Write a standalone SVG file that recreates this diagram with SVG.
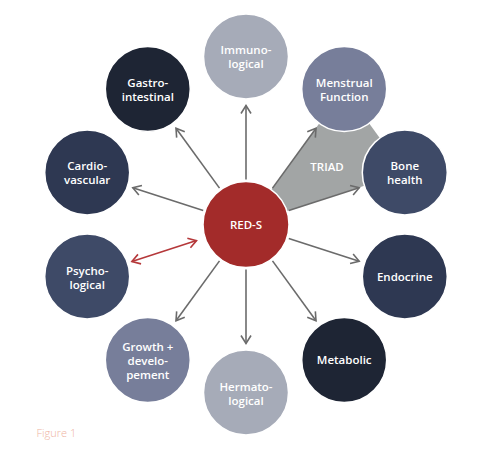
<svg xmlns="http://www.w3.org/2000/svg" width="491" height="468" viewBox="0 0 491 468">
<style>
.n{stroke:#ffffff;stroke-width:1.5}
.t{font-family:"Open Sans","Liberation Sans",sans-serif;font-weight:600;font-size:11.5px;fill:#ffffff;text-anchor:middle}
.c1{fill:#a6abb8}.c2{fill:#777e9a}.c3{fill:#3e4a67}.c4{fill:#2e3852}.c5{fill:#1e2534}
.a{stroke:#6b6b6b;stroke-width:1.6;fill:none;marker-end:url(#ah)}
.r{stroke:#b5383a;stroke-width:1.6;fill:none;marker-end:url(#rh);marker-start:url(#rh)}
</style>
<defs>
<marker id="ah" markerUnits="userSpaceOnUse" viewBox="-10 -6 12 12" refX="0" refY="0" markerWidth="12" markerHeight="12" orient="auto">
<path d="M-8,-5 L0,0 L-8,5" fill="none" stroke="#6b6b6b" stroke-width="1.6"/>
</marker>
<marker id="rh" markerUnits="userSpaceOnUse" viewBox="-10 -6 12 12" refX="0" refY="0" markerWidth="12" markerHeight="12" orient="auto-start-reverse">
<path d="M-8,-5 L0,0 L-8,5" fill="none" stroke="#b5383a" stroke-width="1.6"/>
</marker>
</defs>
<rect width="491" height="468" fill="#ffffff"/>
<g id="triad">
<polygon points="246,224.5 344.2,88.9 404.8,172.4" fill="#a2a5a5"/>
<text class="t" x="327" y="171">TRIAD</text>
</g>
<g id="connectors">
<line class="a" x1="246" y1="179.5" x2="246" y2="105.5"/>
<line class="a" x1="272.5" y1="188.1" x2="316" y2="128.2"/>
<line class="a" x1="288.8" y1="210.6" x2="359.2" y2="187.7"/>
<line class="a" x1="288.8" y1="238.4" x2="359.2" y2="261.3"/>
<line class="a" x1="272.5" y1="260.9" x2="316" y2="320.8"/>
<line class="a" x1="246" y1="269.5" x2="246" y2="343.5"/>
<line class="a" x1="219.5" y1="260.9" x2="176" y2="320.8"/>
<line class="r" x1="196.5" y1="240.6" x2="131.9" y2="261.6"/>
<line class="a" x1="203.2" y1="210.6" x2="132.8" y2="187.7"/>
<line class="a" x1="219.5" y1="188.1" x2="176" y2="128.2"/>
</g>
<g id="reds">
<circle class="n" cx="246" cy="224.5" r="43" fill="#a32b2a"/>
<text class="t" x="246" y="228.5">RED-S</text>
</g>
<g id="immuno">
<circle class="n c1" cx="246" cy="56.5" r="42.5"/>
<text class="t" x="246" y="53.5">Immuno-</text>
<text class="t" x="246" y="67.5">logical</text>
</g>
<g id="menstrual">
<circle class="n c2" cx="344.2" cy="88.9" r="42.5"/>
<text class="t" x="344.2" y="86.9">Menstrual</text>
<text class="t" x="344.2" y="100.9">Function</text>
</g>
<g id="bone">
<circle class="n c3" cx="404.8" cy="172.4" r="42.5"/>
<text class="t" x="404.8" y="170.4">Bone</text>
<text class="t" x="404.8" y="184.4">health</text>
</g>
<g id="endocrine">
<circle class="n c4" cx="404.8" cy="276.6" r="42.5"/>
<text class="t" x="404.8" y="280.6">Endocrine</text>
</g>
<g id="metabolic">
<circle class="n c5" cx="344.2" cy="360.1" r="42.5"/>
<text class="t" x="344.2" y="364.1">Metabolic</text>
</g>
<g id="hermato">
<circle class="n c1" cx="246" cy="392.5" r="42.5"/>
<text class="t" x="246" y="390.5">Hermato-</text>
<text class="t" x="246" y="404.5">logical</text>
</g>
<g id="growth">
<circle class="n c2" cx="147.8" cy="360.1" r="42.5"/>
<text class="t" x="147.8" y="350.6">Growth +</text>
<text class="t" x="147.8" y="364.6">develo-</text>
<text class="t" x="147.8" y="378.6">pement</text>
</g>
<g id="psycho">
<circle class="n c3" cx="87.2" cy="276.6" r="42.5"/>
<text class="t" x="87.2" y="274.6">Psycho-</text>
<text class="t" x="87.2" y="288.6">logical</text>
</g>
<g id="cardio">
<circle class="n c4" cx="87.2" cy="172.4" r="42.5"/>
<text class="t" x="87.2" y="170.4">Cardio-</text>
<text class="t" x="87.2" y="184.4">vascular</text>
</g>
<g id="gastro">
<circle class="n c5" cx="147.8" cy="88.9" r="42.5"/>
<text class="t" x="147.8" y="86.9">Gastro-</text>
<text class="t" x="147.8" y="100.9">intestinal</text>
</g>
<text x="36.5" y="436.5" font-family="'Open Sans','Liberation Sans',sans-serif" font-weight="300" font-size="11" fill="#eeb3a2">Figure 1</text>
</svg>
